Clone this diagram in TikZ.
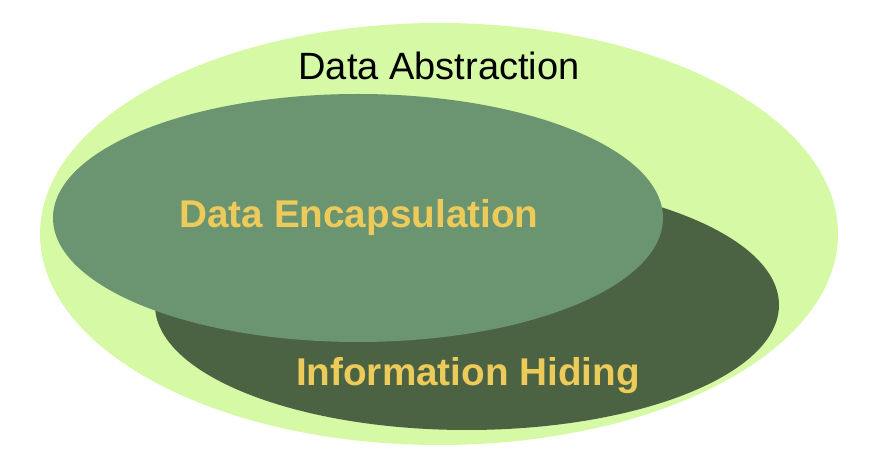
\documentclass[tikz,border=0pt]{standalone}
\usepackage{fontspec}
\setmainfont{Liberation Sans}
\definecolor{outerg}{HTML}{D5F9A4}
\definecolor{midg}{HTML}{6B9470}
\definecolor{darkg}{HTML}{4B6343}
\definecolor{txty}{HTML}{EDCB5B}
\tikzset{
  lbl/.style={inner sep=0pt, anchor=center},
  ylbl/.style={lbl, text=txty, font=\bfseries\fontsize{38.7}{40}\selectfont},
}
\begin{document}
\begin{tikzpicture}[x=1pt,y=-1pt]
\useasboundingbox (0,0) rectangle (884,470);
\fill[outerg] (439,234) ellipse [x radius=399, y radius=211];
\fill[darkg] (467,305) ellipse [x radius=312, y radius=125];
\fill[midg] (358,218) ellipse [x radius=305, y radius=124];
\node[lbl, font=\fontsize{38}{40}\selectfont] (abs) at (439,66) {Data Abstraction};
\node[ylbl] (enc) at (359,217) {Data Encapsulation};
\node[ylbl] (hid) at (468,376) {Information Hiding};
\end{tikzpicture}
\end{document}
